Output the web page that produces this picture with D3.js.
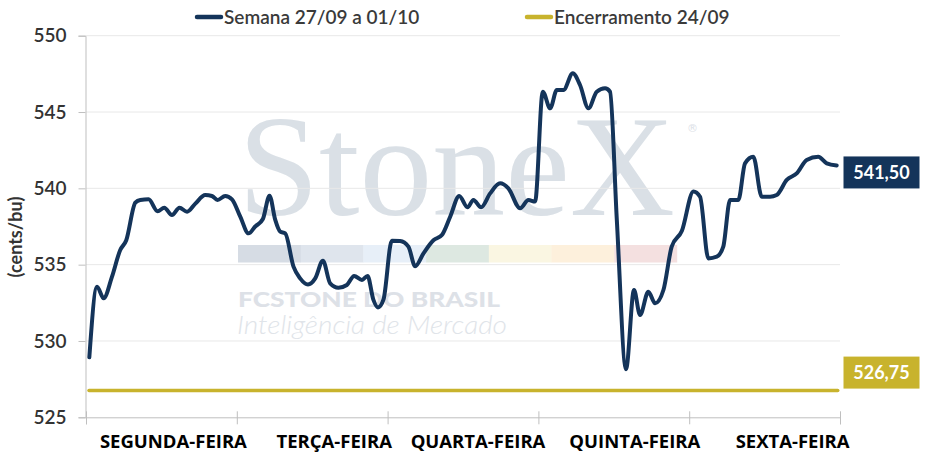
<!DOCTYPE html>
<html>
<head>
<meta charset="utf-8">
<script src="https://cdn.jsdelivr.net/npm/d3@7"></script>
<style>
  body { margin: 0; background: #fff; }
  svg { display: block; }
</style>
</head>
<body>
<div id="chart"></div>
<script>
// days: 0 = start of monday, 5 = end of friday
var days = ["SEGUNDA-FEIRA", "TERÇA-FEIRA", "QUARTA-FEIRA", "QUINTA-FEIRA", "SEXTA-FEIRA"];
var yTicks = [525, 530, 535, 540, 545, 550];
var weekTimes = [0.022, 0.073, 0.117, 0.172, 0.227, 0.267, 0.327, 0.360, 0.415, 0.475,
  0.519, 0.570, 0.620, 0.670, 0.725, 0.791, 0.835, 0.872, 0.923, 0.968,
  1.023, 1.078, 1.122, 1.173, 1.217, 1.255, 1.288, 1.321, 1.376, 1.420,
  1.472, 1.520, 1.571, 1.619, 1.674, 1.730, 1.778, 1.830, 1.867, 1.906,
  1.936, 1.973, 2.028, 2.083, 2.138, 2.183, 2.238, 2.304, 2.360, 2.415,
  2.475, 2.530, 2.569, 2.620, 2.680, 2.746, 2.801, 2.879, 2.934, 2.978,
  3.029, 3.078, 3.122, 3.166, 3.228, 3.276, 3.332, 3.387, 3.442, 3.475,
  3.520, 3.581, 3.634, 3.674, 3.729, 3.774, 3.829, 3.884, 3.951, 4.028,
  4.072, 4.127, 4.183, 4.226, 4.271, 4.326, 4.370, 4.425, 4.481, 4.536,
  4.580, 4.647, 4.713, 4.779, 4.856, 4.912, 4.978];
var weekPrices = [528.93, 533.56, 532.8, 534.2, 535.96, 536.6, 539.06, 539.24, 539.28, 538.5,
  538.73, 538.25, 538.73, 538.47, 539.0, 539.56, 539.5, 539.24, 539.5, 539.28,
  538.14, 537.05, 537.5, 537.99, 539.52, 537.93, 537.16, 537.05, 534.87, 534.1,
  533.7, 534.1, 535.26, 533.78, 533.49, 533.67, 534.26, 534.0, 534.26, 532.69,
  532.2, 532.73, 536.57, 536.55, 536.18, 534.9, 535.74, 536.6, 536.94, 538.14,
  539.5, 538.76, 539.24, 538.76, 539.67, 540.33, 540.0, 538.69, 539.24, 539.13,
  546.33, 545.24, 546.44, 546.44, 547.54, 546.77, 545.24, 546.33, 546.55, 546.33,
  537.93, 528.15, 533.34, 531.7, 533.23, 532.47, 533.34, 536.18, 537.2, 539.8,
  539.45, 535.41, 535.52, 536.18, 539.24, 539.24, 541.64, 542.07, 539.45, 539.45,
  539.56, 540.55, 540.98, 541.86, 542.07, 541.64, 541.5];
var closePrice = 526.75;
var lastPrice = 541.50;
var seriesNames = ["Semana 27/09 a 01/10", "Encerramento 24/09"];

var W = 927, H = 455;
var navy = "#14345a", gold = "#c8b32d";

var svg = d3.select("#chart").append("svg").attr("width", W).attr("height", H);

var x = d3.scaleLinear().domain([0, 5]).range([86, 840]);
var y = d3.scaleLinear().domain([525, 550]).range([417.3, 35.7]);

// watermark
var wm = svg.append("g");
wm.append("text").attr("x", 238).attr("y", 215).text("StoneX")
  .attr("font-family", "Liberation Serif, serif").attr("font-size", 145)
  .attr("textLength", 437).attr("lengthAdjust", "spacingAndGlyphs")
  .attr("fill", "#dae0e6");
wm.append("text").attr("x", 687).attr("y", 132).text("®")
  .attr("font-family", "DejaVu Sans").attr("font-size", 11).attr("fill", "#dce1e7");
var bands = ["#d6dce4", "#dfe5ed", "#e7eff8", "#dde8e1", "#faf6e2", "#fdf0dc", "#f4e0e0"];
wm.selectAll("rect.band").data(bands).enter().append("rect")
  .attr("x", function (d, i) { return 238 + i * 62.7; })
  .attr("y", 245).attr("width", 63).attr("height", 17.5)
  .attr("fill", function (d) { return d; });
wm.append("text").attr("x", 238).attr("y", 307).text("FCSTONE DO BRASIL")
  .attr("font-family", "Lato, sans-serif").attr("font-weight", 900).attr("font-size", 21)
  .attr("textLength", 262).attr("lengthAdjust", "spacingAndGlyphs")
  .attr("fill", "#dde1e7");
wm.append("text").attr("x", 237).attr("y", 334).text("Inteligência de Mercado")
  .attr("font-family", "Lato, sans-serif").attr("font-style", "italic").attr("font-weight", 300)
  .attr("font-size", 25).attr("textLength", 270).attr("lengthAdjust", "spacingAndGlyphs")
  .attr("fill", "#e0e4e9");

// gridlines
svg.append("g").selectAll("line").data(yTicks.slice(1)).enter().append("line")
  .attr("x1", 86).attr("x2", 840)
  .attr("y1", function (d) { return y(d); }).attr("y2", function (d) { return y(d); })
  .attr("stroke", "#e8e8e8").attr("stroke-width", 1);

// y axis
var yAxis = svg.append("g").attr("transform", "translate(85.5,0)")
  .call(d3.axisLeft(y).tickValues(yTicks).tickSize(7).tickPadding(12).tickFormat(d3.format("d")));
yAxis.select(".domain").attr("stroke", "#bfbfbf");
yAxis.selectAll(".tick line").attr("stroke", "#bfbfbf");
yAxis.selectAll(".tick text").attr("font-family", "Lato, sans-serif").attr("font-size", 19)
  .attr("font-weight", 600).attr("fill", "#333");

svg.append("text").attr("transform", "translate(22,237) rotate(-90)")
  .attr("text-anchor", "middle").text("(cents/bu)")
  .attr("font-family", "Lato, sans-serif").attr("font-weight", 700).attr("font-size", 18).attr("fill", "#333");

// x axis
var xAxis = svg.append("g").attr("transform", "translate(0,417.3)")
  .call(d3.axisBottom(x).tickValues(d3.range(0, 6)).tickSize(7).tickFormat(""));
xAxis.select(".domain").attr("stroke", "#bfbfbf");
xAxis.selectAll(".tick line").attr("stroke", "#bfbfbf").attr("y1", -6);

var labelNudge = [12, 22, 15, 21, 28];
svg.append("g").selectAll("text").data(days).enter().append("text")
  .attr("x", function (d, i) { return x(i + 0.5) + labelNudge[i]; })
  .attr("y", 448).attr("text-anchor", "middle").text(function (d) { return d; })
  .attr("font-family", "Open Sans, sans-serif").attr("font-weight", 700).attr("font-size", 18.5)
  .attr("fill", "#000");

// close line
svg.append("line").attr("x1", x(0.02)).attr("x2", x(4.985))
  .attr("y1", y(closePrice)).attr("y2", y(closePrice))
  .attr("stroke", gold).attr("stroke-width", 3.5).attr("stroke-linecap", "round");

// week line
var pts = weekTimes.map(function (t, i) { return [t, weekPrices[i]]; });
var line = d3.line().x(function (d) { return x(d[0]); }).y(function (d) { return y(d[1]); })
  .curve(d3.curveMonotoneX);
svg.append("path").datum(pts).attr("d", line)
  .attr("fill", "none").attr("stroke", navy).attr("stroke-width", 4)
  .attr("stroke-linejoin", "round").attr("stroke-linecap", "round");

// value boxes
function valueBox(v, cy, color) {
  var g = svg.append("g");
  g.append("rect").attr("x", 843.5).attr("y", cy - 16).attr("width", 76).attr("height", 32).attr("fill", color);
  g.append("text").attr("x", 881.5).attr("y", cy + 6.5).attr("text-anchor", "middle")
    .text(d3.format(".2f")(v).replace(".", ","))
    .attr("font-family", "Lato, sans-serif").attr("font-weight", 700).attr("font-size", 18).attr("fill", "#fff");
}
valueBox(lastPrice, y(lastPrice) + 7, navy);
valueBox(closePrice, y(closePrice) - 18, gold);

// legend
var legend = svg.append("g");
var legX = [195, 525];
seriesNames.forEach(function (name, i) {
  legend.append("line").attr("x1", legX[i] + 2).attr("x2", legX[i] + 26).attr("y1", 17).attr("y2", 17)
    .attr("stroke", i === 0 ? navy : gold).attr("stroke-width", 4.5).attr("stroke-linecap", "round");
  legend.append("text").attr("x", legX[i] + 29).attr("y", 24).text(name)
    .attr("font-family", "Lato, sans-serif").attr("font-size", 19).attr("font-weight", 600).attr("fill", "#3a3a3a");
});
</script>
</body>
</html>
